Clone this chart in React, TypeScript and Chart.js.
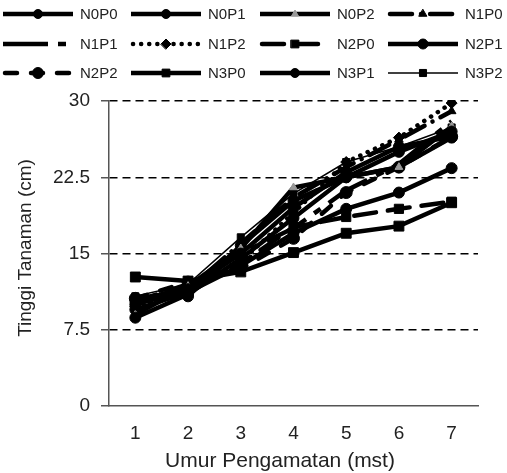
import React, { useEffect, useRef } from "react";
import { Chart, registerables } from "chart.js";
import { drawPoint } from "chart.js/helpers";

Chart.register(...registerables);

const categories = ["1", "2", "3", "4", "5", "6", "7"];
const yTicks = [0, 7.5, 15, 22.5, 30];
const xTitle = "Umur Pengamatan (mst)";
const yTitle = "Tinggi Tanaman (cm)";

const N0P0 = [8.7, 11.0, 14.5, 18.5, 22.5, 25.0, 27.0];
const N0P1 = [10.0, 11.5, 15.0, 19.5, 23.0, 25.5, 26.5];
const N0P2 = [9.0, 11.8, 15.5, 21.5, 22.5, 23.5, 27.5];
const N1P0 = [10.5, 11.5, 16.0, 20.5, 23.5, 26.2, 29.0];
const N1P1 = [10.2, 11.8, 15.0, 17.5, 21.2, 23.8, 28.0];
const N1P2 = [9.8, 11.6, 14.2, 19.0, 24.0, 26.4, 29.8];
const N2P0 = [10.3, 12.0, 14.0, 17.6, 18.6, 19.4, 20.1];
const N2P1 = [9.5, 11.2, 13.8, 17.0, 19.4, 21.0, 23.4];
const N2P2 = [10.6, 12.2, 13.5, 16.5, 21.0, 23.5, 26.5];
const N3P0 = [12.7, 12.3, 13.2, 15.1, 17.0, 17.7, 20.0];
const N3P1 = [10.4, 10.8, 15.8, 20.2, 22.5, 23.5, 26.4];
const N3P2 = [10.8, 12.0, 16.6, 20.9, 24.0, 25.5, 27.4];

const seriesNames = ["N0P0", "N0P1", "N0P2", "N1P0", "N1P1", "N1P2", "N2P0", "N2P1", "N2P2", "N3P0", "N3P1", "N3P2"];
const seriesValues = [N0P0, N0P1, N0P2, N1P0, N1P1, N1P2, N2P0, N2P1, N2P2, N3P0, N3P1, N3P2];

type Style = { w: number; dash: number[]; cap: CanvasLineCap; ps: any; r: number; lr: number; fill: string };
const styles: Style[] = [
  { w: 4.5, dash: [], cap: "butt", ps: "circle", r: 5.5, lr: 4.5, fill: "#000" },
  { w: 4.5, dash: [], cap: "butt", ps: "circle", r: 5.5, lr: 4.5, fill: "#000" },
  { w: 4.5, dash: [], cap: "butt", ps: "triangle", r: 4.5, lr: 4, fill: "#999" },
  { w: 4.5, dash: [22, 9, 0.1, 9], cap: "round", ps: "triangle", r: 5, lr: 4.5, fill: "#000" },
  { w: 4.5, dash: [45, 10, 8, 10], cap: "butt", ps: false, r: 0, lr: 0, fill: "#000" },
  { w: 4.5, dash: [0.1, 8], cap: "round", ps: "rectRot", r: 5.5, lr: 5, fill: "#000" },
  { w: 4.5, dash: [22, 12], cap: "round", ps: "rect", r: 6.5, lr: 5.5, fill: "#000" },
  { w: 4.5, dash: [], cap: "butt", ps: "circle", r: 5.5, lr: 5, fill: "#000" },
  { w: 4.5, dash: [12, 14], cap: "round", ps: "circle", r: 6, lr: 5.5, fill: "#000" },
  { w: 4.5, dash: [], cap: "butt", ps: "rect", r: 7, lr: 5.5, fill: "#000" },
  { w: 4.5, dash: [], cap: "butt", ps: "circle", r: 5.5, lr: 4.5, fill: "#000" },
  { w: 1.5, dash: [], cap: "butt", ps: "rect", r: 5, lr: 5, fill: "#000" },
];

const FONT = "'Liberation Sans', Arial, sans-serif";

const legendPlugin = {
  id: "customLegend",
  afterDraw(chart: any) {
    const ctx = chart.ctx as CanvasRenderingContext2D;
    const colX = [3, 131, 260, 388];
    const rowY = [14, 44, 73];
    ctx.save();
    seriesNames.forEach((name, i) => {
      const st = styles[i];
      const x0 = colX[i % 4];
      const y = rowY[Math.floor(i / 4)];
      ctx.beginPath();
      ctx.lineWidth = st.w;
      ctx.strokeStyle = "#000";
      ctx.lineCap = st.cap;
      ctx.setLineDash(st.dash);
      ctx.moveTo(x0 + (st.cap === "round" ? 2 : 0), y);
      ctx.lineTo(x0 + 70 - (st.cap === "round" ? 2 : 0), y);
      ctx.stroke();
      ctx.setLineDash([]);
      if (st.ps) {
        ctx.fillStyle = st.fill;
        ctx.strokeStyle = st.fill;
        ctx.lineWidth = 1;
        drawPoint(ctx, { pointStyle: st.ps, radius: st.lr, borderWidth: 1, rotation: 0 } as any, x0 + 35, y);
      }
      ctx.fillStyle = "#222";
      ctx.font = `15px ${FONT}`;
      ctx.textBaseline = "middle";
      ctx.textAlign = "left";
      ctx.fillText(name, x0 + 77, y + 1);
    });
    // axis titles
    ctx.fillStyle = "#222";
    ctx.textAlign = "center";
    ctx.textBaseline = "middle";
    ctx.font = `21px ${FONT}`;
    ctx.fillText(xTitle, 280, 461);
    ctx.save();
    ctx.translate(26, 248);
    ctx.rotate(-Math.PI / 2);
    ctx.font = `19px ${FONT}`;
    ctx.fillText(yTitle, 0, 0);
    ctx.restore();
    ctx.restore();
  },
};

export default function App() {
  const ref = useRef<HTMLCanvasElement | null>(null);
  useEffect(() => {
    if (!ref.current) return;
    const chart = new Chart(ref.current, {
      type: "line",
      data: {
        labels: categories,
        datasets: seriesNames.map((name, i) => ({
          label: name,
          data: seriesValues[i],
          borderColor: "#000",
          borderWidth: styles[i].w,
          borderDash: styles[i].dash,
          borderCapStyle: styles[i].cap,
          pointStyle: styles[i].ps,
          pointRadius: styles[i].r,
          pointBackgroundColor: styles[i].fill,
          pointBorderColor: styles[i].fill,
          pointBorderWidth: 1,
          fill: false,
          tension: 0,
        })),
      },
      options: {
        animation: false,
        responsive: false,
        devicePixelRatio: 1,
        layout: { padding: { top: 101, right: 29, left: 42, bottom: 12 } },
        plugins: { legend: { display: false }, tooltip: { enabled: false } },
        scales: {
          x: {
            type: "category",
            offset: true,
            grid: { display: false, drawTicks: false },
            border: { display: true, color: "#555", width: 1.5 },
            ticks: { color: "#222", font: { family: FONT, size: 19 }, padding: 16 },
          },
          y: {
            min: 0,
            max: 30,
            afterBuildTicks: (axis: any) => {
              axis.ticks = yTicks.map((v) => ({ value: v }));
            },
            grid: {
              color: (c: any) => (c.tick && c.tick.value === 0 ? "rgba(0,0,0,0)" : "#000"),
              lineWidth: 1.5,
              tickColor: "#555",
              tickLength: 8,
              drawTicks: true,
            },
            border: { display: true, color: "#555", width: 1.5, dash: [8, 5] },
            ticks: { color: "#222", font: { family: FONT, size: 19 }, padding: 11 },
          },
        },
      },
      plugins: [legendPlugin],
    });
    return () => chart.destroy();
  }, []);
  return (
    <div style={{ position: "fixed", left: 0, top: 0, width: 507, height: 473, background: "#fff" }}>
      <canvas ref={ref} width={507} height={473} style={{ width: 507, height: 473 }} />
    </div>
  );
}
